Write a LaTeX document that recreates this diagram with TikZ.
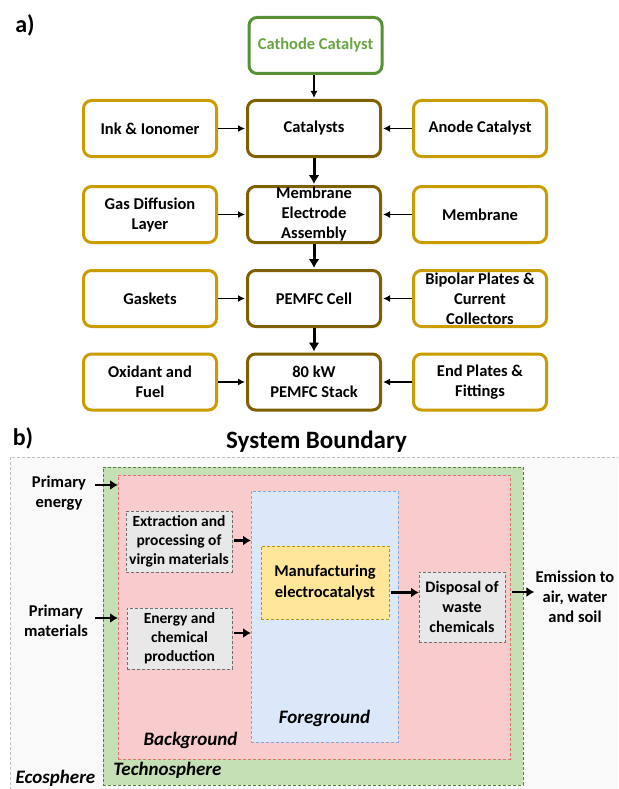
\documentclass[tikz,border=0pt]{standalone}
\usepackage{fontspec}
\setmainfont{Carlito}
\usetikzlibrary{arrows.meta}
\definecolor{goldline}{RGB}{201,156,0}
\definecolor{darkgold}{RGB}{127,96,0}
\definecolor{catline}{RGB}{88,145,52}
\definecolor{cattext}{RGB}{106,165,66}
\definecolor{ecofill}{RGB}{249,249,249}
\definecolor{ecoline}{RGB}{190,190,190}
\definecolor{techfill}{RGB}{197,224,180}
\definecolor{techline}{RGB}{84,130,53}
\definecolor{bgfill}{RGB}{248,204,204}
\definecolor{bgline}{RGB}{228,112,112}
\definecolor{fgfill}{RGB}{218,232,250}
\definecolor{fgline}{RGB}{126,166,224}
\definecolor{mfgfill}{RGB}{255,230,153}
\definecolor{mfgline}{RGB}{191,144,0}
\definecolor{grayfill}{RGB}{232,232,232}
\definecolor{grayline}{RGB}{110,110,110}
\begin{document}
\begin{tikzpicture}[x=1pt,y=-1pt,
  abox/.style={rounded corners=8pt, line width=3pt, fill=white,
    minimum width=133pt, minimum height=56pt, inner sep=0pt, align=center,
    font=\bfseries\fontsize{16.5}{20}\selectfont},
  sidebox/.style={abox, draw=goldline},
  mainbox/.style={abox, draw=darkgold},
  topbox/.style={abox, draw=catline, text=cattext},
  thinarr/.style={line width=1.5pt, -{Latex[length=7pt,width=7pt]}, shorten >=1pt},
  thickarr/.style={line width=3pt, -{Latex[length=9pt,width=11pt]}, shorten >=1pt},
  barr/.style={line width=2.6pt, -{Latex[length=8pt,width=10pt]}},
  region/.style={anchor=north west, inner sep=0pt, outer sep=0pt, line width=1pt,
    dash pattern=on 3pt off 2pt},
  graybox/.style={region, fill=grayfill, draw=grayline, align=center,
    font=\bfseries\fontsize{15.5}{19}\selectfont},
  btext/.style={align=center, inner sep=0pt, font=\bfseries\fontsize{16.5}{20}\selectfont},
  ilabel/.style={inner sep=0pt, font=\bfseries\itshape\fontsize{19}{20}\selectfont},
  plabel/.style={inner sep=0pt, font=\bfseries\fontsize{24}{26}\selectfont}
]
\useasboundingbox (0,0) rectangle (618,789);
\clip (0,0) rectangle (618,789);

% ---------- a) ----------
\node[plabel] (la) at (25,25) {a)};
\node[topbox] (cath) at (315.5,45.5) {Cathode Catalyst};

\node[sidebox] (ink) at (150,128.5) {Ink \& Ionomer};
\node[mainbox] (cat) at (314,128.5) {Catalysts};
\node[sidebox] (anode) at (480,128.5) {Anode Catalyst};

\node[sidebox] (gdl) at (150,214.5) {Gas Diffusion\\Layer};
\node[mainbox] (mea) at (314,214.5) {Membrane\\Electrode\\Assembly};
\node[sidebox] (mem) at (480,214.5) {Membrane};

\node[sidebox] (gask) at (150,298.5) {Gaskets};
\node[mainbox] (cell) at (314,298.5) {PEMFC Cell};
\node[sidebox] (bip) at (480,298.5) {Bipolar Plates \&\\Current\\Collectors};

\node[sidebox] (oxf) at (150,382) {Oxidant and\\Fuel};
\node[mainbox] (stack) at (314,382) {80 kW\\PEMFC Stack};
\node[sidebox] (endp) at (480,382) {End Plates \&\\Fittings};

\draw[thinarr] (cath.south -| cat.north) -- (cat.north);
\draw[thickarr] (cat) -- (mea);
\draw[thickarr] (mea) -- (cell);
\draw[thickarr] (cell) -- (stack);
\foreach \s/\t in {ink/cat, anode/cat, gdl/mea, mem/mea, gask/cell, bip/cell, oxf/stack, endp/stack}
  \draw[thinarr] (\s) -- (\t);

% ---------- b) ----------
\node[plabel] (lb) at (23,438) {b)};
\node[inner sep=0pt, font=\bfseries\fontsize{25}{28}\selectfont] (sysb) at (316.5,442) {System Boundary};

\node[region, fill=ecofill, draw=ecoline, minimum width=640pt, minimum height=400pt] (eco) at (10,457) {};
\node[region, fill=techfill, draw=techline, minimum width=420pt, minimum height=318pt] (tech) at (103,467) {};
\node[region, fill=bgfill, draw=bgline, minimum width=392pt, minimum height=284pt] (bg) at (118,475) {};
\node[region, fill=fgfill, draw=fgline, minimum width=147pt, minimum height=251pt] (fg) at (251,491) {};
\node[region, fill=mfgfill, draw=mfgline, minimum width=128pt, minimum height=73pt, align=center,
  font=\bfseries\fontsize{16.5}{21}\selectfont] (mfg) at (261,546) {Manufacturing\\electrocatalyst};
\node[graybox, minimum width=106pt, minimum height=61pt] (ext) at (126,511) {Extraction and\\processing of\\virgin materials};
\node[graybox, minimum width=105pt, minimum height=61pt] (ene) at (127,608) {Energy and\\chemical\\production};
\node[graybox, minimum width=86pt, minimum height=70pt, font=\bfseries\fontsize{16}{20}\selectfont] (disp) at (419,572) {Disposal of\\waste\\chemicals};

\node[btext] (pe) at (59,493.5) {Primary\\energy};
\node[btext] (pm) at (56,620.5) {Primary\\materials};
\node[btext] (emi) at (575,597) {Emission to\\air, water\\and soil};

\node[ilabel] (fgl) at (324.5,718) {Foreground};
\node[ilabel] (bgl) at (190.5,740) {Background};
\node[ilabel] (tsl) at (167.5,770) {Technosphere};
\node[ilabel] (esl) at (55.5,778) {Ecosphere};

\coordinate (peout) at ([yshift=8.5pt]pe.east);
\coordinate (pmout) at ([yshift=2.5pt]pm.east);
\coordinate (extout) at ([yshift=1pt]ext.east);
\coordinate (eneout) at ([yshift=5.5pt]ene.east);
\coordinate (mfgout) at ([yshift=-10pt]mfg.east);
\coordinate (dispout) at ([yshift=15pt]disp.east);
\draw[barr] ([xshift=9pt]peout) -- (peout -| bg.west);
\draw[barr] ([xshift=7pt]pmout) -- (pmout -| bg.west);
\draw[barr] ([xshift=2pt]extout) -- (extout -| fg.west);
\draw[barr] ([xshift=2pt]eneout) -- (eneout -| fg.west);
\draw[barr] ([xshift=2pt]mfgout) -- (mfgout -| disp.west);
\draw[barr] ([xshift=7pt]dispout) -- ([xshift=-1pt]dispout -| emi.west);
\end{tikzpicture}
\end{document}
